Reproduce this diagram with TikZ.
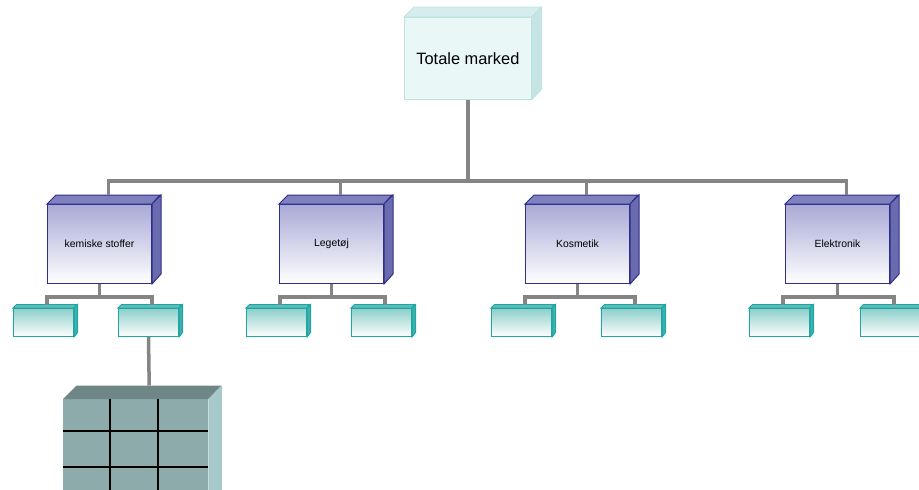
\documentclass[tikz,border=0pt]{standalone}
\usepackage{fontspec}
\setmainfont{Liberation Sans}
\usetikzlibrary{calc}
\definecolor{conncol}{HTML}{858585}
\definecolor{tbfront}{HTML}{E9F7F7}
\definecolor{tbborder}{HTML}{BEE2E2}
\definecolor{tbtop}{HTML}{D5EDED}
\definecolor{tbside}{HTML}{C6E4E4}
\definecolor{pufronttop}{HTML}{A9A9D6}
\definecolor{puborder}{HTML}{2E2E8C}
\definecolor{putop}{HTML}{8080BE}
\definecolor{puside}{HTML}{6A6AAE}
\definecolor{tefronttop}{HTML}{8ECFCB}
\definecolor{teborder}{HTML}{1FA6A2}
\definecolor{tetop}{HTML}{5EC0BC}
\definecolor{teside}{HTML}{3BB0AC}
\definecolor{grfront}{HTML}{8EABAB}
\definecolor{grtop}{HTML}{6E8686}
\definecolor{grside}{HTML}{A8C9C9}
\tikzset{
  conn/.style={draw=conncol, line width=3.5pt},
  tb front/.style={fill=tbfront, draw=tbborder, line width=0.8pt},
  tb top/.style={fill=tbtop, draw=tbborder, line width=0.8pt},
  tb side/.style={fill=tbside, draw=tbborder, line width=0.8pt},
  pu front/.style={top color=pufronttop, bottom color=white, draw=puborder, line width=1pt},
  pu top/.style={fill=putop, draw=puborder, line width=1pt},
  pu side/.style={fill=puside, draw=puborder, line width=1pt},
  te front/.style={top color=tefronttop, bottom color=white, draw=teborder, line width=1pt},
  te top/.style={fill=tetop, draw=teborder, line width=1pt},
  te side/.style={fill=teside, draw=teborder, line width=1pt},
  gr front/.style={fill=grfront},
  gr top/.style={fill=grtop},
  gr side/.style={fill=grside},
  bigtxt/.style={font=\fontsize{16.4}{19}\selectfont},
  smalltxt/.style={font=\fontsize{10.4}{12}\selectfont},
}
% #1 name, #2 kind, #3 x, #4 y, #5 w, #6 h, #7 depth, #8 text options, 
\newcommand\cubebox[8]{%
  \node[#2 front, minimum width=#5pt, minimum height=#6pt, inner sep=0pt, anchor=north west, #8] (#1) at (#3,#4) {};
  \path[#2 top] (#1.north west) -- ++(#7,-#7) -- ++(#5,0) -- (#1.north east) -- cycle;
  \path[#2 side] (#1.north east) -- ++(#7,-#7) -- ++(0,#6) -- (#1.south east) -- cycle;
  \coordinate (#1-t) at ($(#1.north)+(#7,-#7)$);
}
\newcommand\boxlabel[3]{\node[#2, inner sep=0pt] (#1-lbl) at (#1.center) {#3};}
\begin{document}
\begin{tikzpicture}[x=1pt, y=-1pt]
\useasboundingbox (0,0) rectangle (919,490);
\clip (0,0) rectangle (919,490);
\coordinate (b1) at (0,181);
\coordinate (b2) at (0,297);
% boxes
\cubebox{T}{tb}{404}{17}{127}{82}{10}{}
\boxlabel{T}{bigtxt}{Totale marked}
\cubebox{P1}{pu}{47}{204}{104}{79}{9}{}
\boxlabel{P1}{smalltxt}{kemiske stoffer}
\cubebox{P2}{pu}{279}{204}{104}{79}{9}{}
\boxlabel{P2}{smalltxt}{Legetøj}
\cubebox{P3}{pu}{525}{204}{104}{79}{9}{}
\boxlabel{P3}{smalltxt}{Kosmetik}
\cubebox{P4}{pu}{785}{204}{104}{79}{9}{}
\boxlabel{P4}{smalltxt}{Elektronik}
\cubebox{S1}{te}{13}{308}{60}{28}{3.5}{}
\cubebox{S2}{te}{118}{308}{60}{28}{3.5}{}
\cubebox{S3}{te}{246}{308}{60}{28}{3.5}{}
\cubebox{S4}{te}{351}{308}{60}{28}{3.5}{}
\cubebox{S5}{te}{491}{308}{60}{28}{3.5}{}
\cubebox{S6}{te}{601}{308}{60}{28}{3.5}{}
\cubebox{S7}{te}{749}{308}{60}{28}{3.5}{}
\cubebox{S8}{te}{860}{308}{60}{28}{3.5}{}
\cubebox{G}{gr}{63}{399}{145}{140}{13.5}{}
% grid lines
\draw[line width=1.5pt, black] ($(G.north west)+(47,0)$) -- ($(G.south west)+(47,0)$);
\draw[line width=1.5pt, black] ($(G.north west)+(95,0)$) -- ($(G.south west)+(95,0)$);
\draw[line width=1.5pt, black] ($(G.north west)+(0,32)$) -- ($(G.north east)+(0,32)$);
\draw[line width=1.5pt, black] ($(G.north west)+(0,68)$) -- ($(G.north east)+(0,68)$);
\draw[line width=1.5pt, black] ($(G.north west)+(0,104)$) -- ($(G.north east)+(0,104)$);
% connectors
\begin{scope}[on background layer/.style={}]
\draw[conn] (T.south) -- (T.south |- b1) -| (P1-t);
\draw[conn] (T.south |- b1) -| (P2-t);
\draw[conn] (T.south |- b1) -| (P3-t);
\draw[conn] (T.south |- b1) -| (P4-t);
\draw[conn] (P1.south) -- (P1.south |- b2) -| (S1-t);
\draw[conn] (P1.south |- b2) -| (S2-t);
\draw[conn] (P2.south) -- (P2.south |- b2) -| (S3-t);
\draw[conn] (P2.south |- b2) -| (S4-t);
\draw[conn] (P3.south) -- (P3.south |- b2) -| (S5-t);
\draw[conn] (P3.south |- b2) -| (S6-t);
\draw[conn] (P4.south) -- (P4.south |- b2) -| (S7-t);
\draw[conn] (P4.south |- b2) -| (S8-t);
\draw[conn] (S2.south) -- (G-t);
\end{scope}
\end{tikzpicture}
\end{document}
